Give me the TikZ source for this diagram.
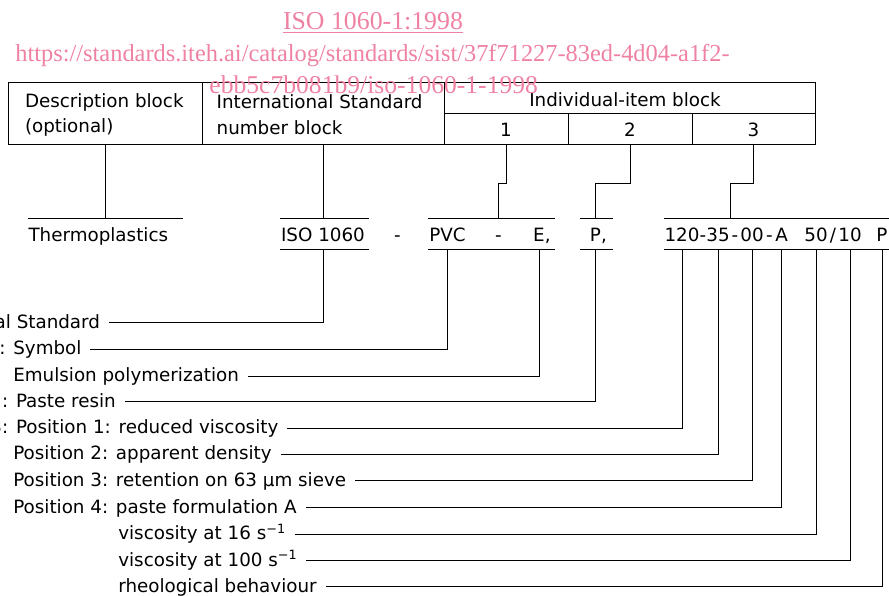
\documentclass[tikz,border=0pt]{standalone}
\usepackage{fontspec}
\setmainfont{DejaVu Sans}
\newfontfamily\wmfont{Liberation Serif}
\definecolor{wmpink}{RGB}{239,130,163}
\tikzset{
  cell/.style={draw, line width=1pt, inner sep=0pt},
  txt/.style={anchor=text, inner sep=0pt},
  tok/.style={inner sep=0pt, text height=22.5pt, text depth=8.5pt},
  lbl/.style={anchor=text, inner sep=0pt, outer xsep=9pt, text height=13.4pt, text depth=2.8pt},
  wm/.style={anchor=base, inner sep=0pt, text=wmpink, font=\wmfont}
}
\begin{document}
\begin{tikzpicture}[x=1pt, y=-1pt, line width=1pt, font=\fontsize{18.3}{22}\selectfont]
\useasboundingbox (0,0) rectangle (889,596);

% header table
\node[cell, minimum width=194pt, minimum height=62pt] (desc) at (105,114) {};
\node[cell, minimum width=242pt, minimum height=62pt] (isn) at (323,114) {};
\node[cell, minimum width=371pt, minimum height=31pt] (ind) at (629.5,98.5) {};
\node[cell, minimum width=124pt, minimum height=31pt] (c1) at (506,129.5) {1};
\node[cell, minimum width=124pt, minimum height=31pt] (c2) at (630,129.5) {2};
\node[cell, minimum width=123pt, minimum height=31pt] (c3) at (753.5,129.5) {3};
\node[txt] (tDesc) at (25,108) {Description block};
\node[txt] (tOpt) at (25,133) {(optional)};
\node[txt] (tIsn) at (216.7,108.5) {International Standard};
\node[txt] (tNum) at (216.7,135) {number block};
\node[txt, anchor=base] (tInd) at (625,106.5) {Individual-item block};

% designation
\node[tok] (thermo) at (98.3,234.5) {Thermoplastics};
\node[tok] (iso) at (323,234.5) {ISO 1060};
\node[tok] (dA) at (397.5,234.5) {-};
\node[tok] (pvc) at (447.5,234.5) {PVC};
\node[tok] (dB) at (498.5,234.5) {-};
\node[tok] (eml) at (539,234.5) {E\rlap{,}};
\node[tok] (pres) at (595.5,234.5) {P\rlap{,}};
\node[tok] (n120) at (682,234.5) {120};
\node[tok] (h1) at (703,234.5) {-};
\node[tok] (n35) at (718,234.5) {35};
\node[tok] (h2) at (735,234.5) {-};
\node[tok] (n00) at (752,234.5) {00};
\node[tok] (h3) at (769.5,234.5) {-};
\node[tok] (nA) at (781.7,234.5) {A};
\node[tok] (n50) at (816,234.5) {50};
\node[tok] (sl) at (833,234.5) {/};
\node[tok] (n10) at (850,234.5) {10};
\node[tok] (nP) at (882,234.5) {P};

\draw (28,219) -- (183,219);
\draw (280,219) -- (369,219) (280,250) -- (369,250);
\draw (428,219) -- (555,219) (428,250) -- (555,250);
\draw (580,219) -- (613,219) (580,250) -- (613,250);
\draw (664,219) -- (889,219) (664,250) -- (889,250);

\draw (desc.south) -- (desc.south |- thermo.north);
\draw (isn.south) -- (iso.north);
\draw (c1.south) -- ++(0,38) -| (dB.north);
\draw (c2.south) -- ++(0,38) -| (pres.north);
\draw (c3.south) -- ++(0,38) -| (n35.north east);

% explanations
\node[lbl, anchor=base east] (lIso) at (109,328) {International Standard};
\node[lbl] (lSym) at (13.3,354.6) {\llap{Data block 1: }Symbol};
\node[lbl] (lEmu) at (13.3,381.3) {Emulsion polymerization};
\node[lbl] (lPaste) at (16,407) {\llap{Data block 2: }Paste resin};
\node[lbl] (lPos1) at (16,433.6) {\llap{Data block 3: }Position 1: reduced viscosity};
\node[lbl] (lPos2) at (13.3,459.3) {Position 2: apparent density};
\node[lbl] (lPos3) at (13.3,486) {Position 3: retention on 63 µm sieve};
\node[lbl] (lPos4) at (13.3,513) {Position 4: paste formulation A};
\node[lbl] (lV16) at (118.3,539.3) {viscosity at 16 s\textsuperscript{−1}};
\node[lbl] (lV100) at (118.3,566) {viscosity at 100 s\textsuperscript{−1}};
\node[lbl] (lRheo) at (118.3,592) {rheological behaviour};

\draw (iso.south) |- (lIso.east);
\draw (pvc.south) |- (lSym.east);
\draw (eml.south) |- (lEmu.east);
\draw (pres.south) |- (lPaste.east);
\draw (n120.south) |- (lPos1.east);
\draw (n35.south) |- (lPos2.east);
\draw (n00.south) |- (lPos3.east);
\draw (nA.south) |- (lPos4.east);
\draw (n50.south) |- (lV16.east);
\draw (n10.south) |- (lV100.east);
\draw (nP.south) |- (lRheo.east);

% watermark
\node[wm] (wm1) at (373,30) {\fontsize{25.8}{26}\selectfont\underline{ISO 1060-1:1998}};
\node[wm] (wm2) at (372.5,61.7) {\fontsize{24.4}{25}\selectfont https://standards.iteh.ai/catalog/standards/sist/37f71227-83ed-4d04-a1f2-};
\node[wm] (wm3) at (373.7,93.3) {\fontsize{25.6}{26}\selectfont ebb5c7b081b9/iso-1060-1-1998};
\end{tikzpicture}
\end{document}
